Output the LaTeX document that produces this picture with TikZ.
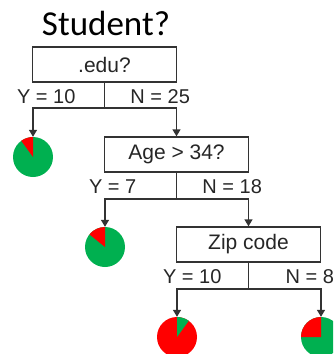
\documentclass[tikz,border=0pt]{standalone}
\usepackage{fontspec}
\setmainfont{Liberation Sans}
\newfontfamily\titlefont{Carlito}
\usetikzlibrary{arrows.meta}
\definecolor{pgreen}{HTML}{00B050}
\definecolor{pred}{HTML}{FF0000}
\definecolor{lgray}{HTML}{333333}
\tikzset{
  qbox/.style={draw=lgray, line width=1.3pt, fill=white, minimum width=144pt, minimum height=35pt, inner sep=0pt, font=\fontsize{21}{24}\selectfont, text=black!85},
  lbl/.style={inner sep=0pt, font=\fontsize{20}{22}\selectfont, text=black!85},
  conn/.style={draw=lgray, line width=1.3pt},
  arr/.style={conn, -{Triangle[length=7pt,width=8pt]}},
  pie/.style={circle, fill=pgreen, minimum size=40pt, inner sep=0pt},
}
\begin{document}
\begin{tikzpicture}[x=1pt,y=1pt]
\useasboundingbox (0,0) rectangle (333,-354);
\clip (0,0) rectangle (333,-354);
\node[anchor=base, inner sep=0pt, font=\titlefont\fontsize{35}{40}\selectfont] (title) at (106,-35) {Student?};

\node[qbox] (b1) at (104.5,-64.5) {.edu?};
\node[qbox] (b2) at (176.5,-154.5) {Age > 34?};
\node[qbox] (b3) at (248.5,-244.5) {Zip code};

% pies
\node[pie] (p1) at (33,-157) {};
\node[pie] (p2) at (105,-247) {};
\node[pie, fill=pred] (p3) at (177,-337) {};
\node[pie] (p4) at (321,-337) {};
\fill[pred] (p1.center) -- ++(90:20) arc (90:126:20) -- cycle;
\fill[pred] (p2.center) -- ++(90:20) arc (90:141:20) -- cycle;
\fill[pgreen] (p3.center) -- ++(54:20) arc (54:90:20) -- cycle;
\fill[pred] (p4.center) -- ++(90:20) arc (90:180:20) -- cycle;

% junctions
\coordinate (j1) at (b1.south |- 0,-108);
\coordinate (j2) at (b2.south |- 0,-199);
\coordinate (j3) at (b3.south |- 0,-289);

\draw[conn] (b1.south) -- (j1);
\draw[arr] (j1) -| (p1.north);
\draw[arr] (j1) -| (b2.north);
\draw[conn] (b2.south) -- (j2);
\draw[arr] (j2) -| (p2.north);
\draw[arr] (j2) -| (b3.north);
\draw[conn] (b3.south) -- (j3);
\draw[arr] (j3) -| (p3.north);
\draw[arr] (j3) -| (p4.north);

% labels
\node[lbl, anchor=west] (y1) at ([xshift=-15pt,yshift=-14pt]b1.south west) {Y = 10};
\node[lbl, anchor=east] (n1) at ([xshift=13pt,yshift=-14pt]b1.south east) {N = 25};
\node[lbl, anchor=west] (y2) at ([xshift=-15pt,yshift=-14pt]b2.south west) {Y = 7};
\node[lbl, anchor=east] (n2) at ([xshift=13pt,yshift=-14pt]b2.south east) {N = 18};
\node[lbl, anchor=west] (y3) at ([xshift=-13pt,yshift=-14pt]b3.south west) {Y = 10};
\node[lbl, anchor=east] (n3) at ([xshift=13pt,yshift=-14pt]b3.south east) {N = 8};
\end{tikzpicture}
\end{document}
